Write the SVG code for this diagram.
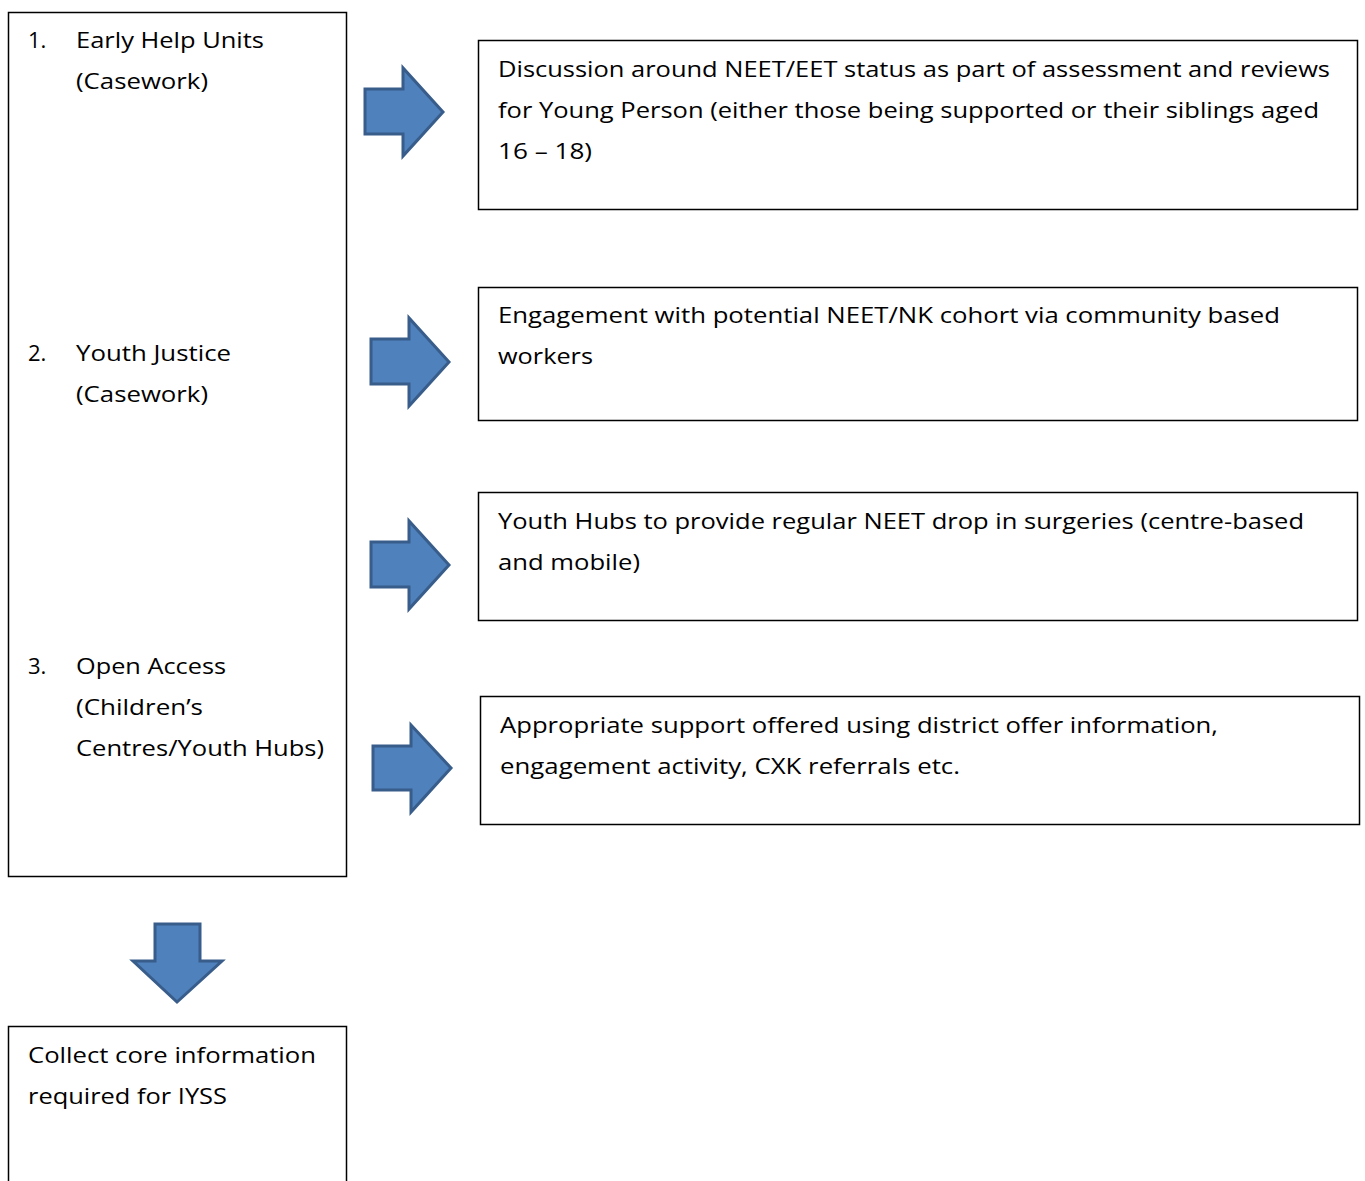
<svg xmlns="http://www.w3.org/2000/svg" width="1365" height="1181" viewBox="0 0 1365 1181">
<style>
.box{fill:#fff;stroke:#000;stroke-width:1.5}
.arr{fill:#4F81BD;stroke:#385D8A;stroke-width:3;stroke-linejoin:miter}
text{font-family:"Open Sans","Liberation Sans",sans-serif;font-size:22px;fill:#000}
</style>
<rect width="1365" height="1181" fill="#fff"/>
<g id="left-box">
<rect class="box" x="8.5" y="12.5" width="338" height="864"/>
<text x="28" y="48">1.</text><text x="76" y="48" textLength="188" lengthAdjust="spacingAndGlyphs">Early Help Units</text>
<text x="76" y="89" textLength="132" lengthAdjust="spacingAndGlyphs">(Casework)</text>
<text x="28" y="361">2.</text><text x="76" y="361" textLength="155" lengthAdjust="spacingAndGlyphs">Youth Justice</text>
<text x="76" y="402" textLength="132" lengthAdjust="spacingAndGlyphs">(Casework)</text>
<text x="28" y="674">3.</text><text x="76" y="674" textLength="150" lengthAdjust="spacingAndGlyphs">Open Access</text>
<text x="76" y="715" textLength="127" lengthAdjust="spacingAndGlyphs">(Children’s</text>
<text x="76" y="756" textLength="248" lengthAdjust="spacingAndGlyphs">Centres/Youth Hubs)</text>
</g>
<g id="box1">
<rect class="box" x="478.5" y="40.5" width="879" height="169"/>
<text x="498" y="77" textLength="832" lengthAdjust="spacingAndGlyphs">Discussion around NEET/EET status as part of assessment and reviews</text>
<text x="498" y="118" textLength="821" lengthAdjust="spacingAndGlyphs">for Young Person (either those being supported or their siblings aged</text>
<text x="498" y="159" textLength="94" lengthAdjust="spacingAndGlyphs">16 – 18)</text>
</g>
<g id="box2">
<rect class="box" x="478.5" y="287.5" width="879" height="133"/>
<text x="498" y="323" textLength="782" lengthAdjust="spacingAndGlyphs">Engagement with potential NEET/NK cohort via community based</text>
<text x="498" y="364" textLength="95" lengthAdjust="spacingAndGlyphs">workers</text>
</g>
<g id="box3">
<rect class="box" x="478.5" y="492.5" width="879" height="128"/>
<text x="498" y="529" textLength="806" lengthAdjust="spacingAndGlyphs">Youth Hubs to provide regular NEET drop in surgeries (centre-based</text>
<text x="498" y="570" textLength="142" lengthAdjust="spacingAndGlyphs">and mobile)</text>
</g>
<g id="box4">
<rect class="box" x="480.5" y="696.5" width="879" height="128"/>
<text x="500" y="733" textLength="718" lengthAdjust="spacingAndGlyphs">Appropriate support offered using district offer information,</text>
<text x="500" y="774" textLength="460" lengthAdjust="spacingAndGlyphs">engagement activity, CXK referrals etc.</text>
</g>
<g id="bottom-box">
<rect class="box" x="8.5" y="1026.5" width="338" height="170"/>
<text x="28" y="1063" textLength="288" lengthAdjust="spacingAndGlyphs">Collect core information</text>
<text x="28" y="1104" textLength="199" lengthAdjust="spacingAndGlyphs">required for IYSS</text>
</g>
<g id="connectors">
<polygon class="arr" points="365,89 403,89 403,68 443,112 403,156 403,134 365,134"/>
<polygon class="arr" points="371,339 409,339 409,318 449,362 409,406 409,384 371,384"/>
<polygon class="arr" points="371,542 409,542 409,521 449,565 409,609 409,587 371,587"/>
<polygon class="arr" points="373,746 411,746 411,725 451,768 411,812 411,790 373,790"/>
<polygon class="arr" points="155,924 200,924 200,961 222,961 177,1002 133,961 155,961"/>
</g>
</svg>
